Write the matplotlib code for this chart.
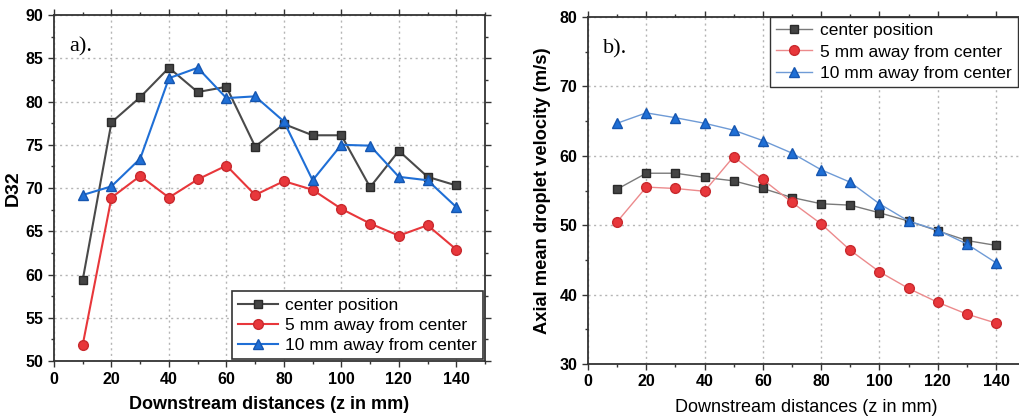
import matplotlib
matplotlib.use("Agg")
import matplotlib.pyplot as plt
from matplotlib.ticker import MultipleLocator

# Downstream positions (mm)
z = [10, 20, 30, 40, 50, 60, 70, 80, 90, 100, 110, 120, 130, 140]

# Panel a: Sauter mean diameter D32
d32_center = [59.4, 77.6, 80.5, 83.9, 81.1, 81.7, 74.8, 77.4, 76.1, 76.1, 70.1, 74.3, 71.3, 70.3]
d32_5mm = [51.9, 68.9, 71.4, 68.9, 71.0, 72.6, 69.2, 70.8, 69.8, 67.6, 65.9, 64.5, 65.7, 62.9]
d32_10mm = [69.2, 70.2, 73.4, 82.7, 83.9, 80.4, 80.6, 77.7, 70.9, 75.0, 74.9, 71.3, 70.9, 67.8]

# Panel b: axial mean droplet velocity (m/s)
vel_center = [55.2, 57.5, 57.5, 56.9, 56.4, 55.3, 54.0, 53.1, 52.9, 51.8, 50.6, 49.2, 47.8, 47.1]
vel_5mm = [50.5, 55.5, 55.3, 54.9, 59.9, 56.6, 53.3, 50.2, 46.4, 43.3, 40.9, 38.9, 37.2, 35.9]
vel_10mm = [64.7, 66.2, 65.5, 64.7, 63.7, 62.2, 60.4, 58.0, 56.2, 53.1, 50.6, 49.3, 47.3, 44.6]

series_labels = ["center position", "5 mm away from center", "10 mm away from center"]
x_label = "Downstream distances (z in mm)"

SANS = "Liberation Sans"
SERIF = "Liberation Serif"

GREY, RED, BLUE = "#444444", "#e8373b", "#1f6fd6"
GREY_EDGE, RED_EDGE, BLUE_EDGE = "#2a2a2a", "#c92a2e", "#1656b0"

fig = plt.figure(figsize=(10.19, 4.17), dpi=100)
ax_a = fig.add_axes([0.053, 0.134, 0.423, 0.830])
ax_b = fig.add_axes([0.577, 0.127, 0.429, 0.832])


def style_axes(ax, ymin, ymax, ymaj, ymin_step):
    ax.set_xlim(0, 150)
    ax.set_ylim(ymin, ymax)
    ax.xaxis.set_major_locator(MultipleLocator(20))
    ax.xaxis.set_minor_locator(MultipleLocator(10))
    ax.yaxis.set_major_locator(MultipleLocator(ymaj))
    ax.yaxis.set_minor_locator(MultipleLocator(ymin_step))
    ax.tick_params(which="both", direction="out", top=True, right=True,
                   width=1.0, color="#333333")
    ax.tick_params(which="major", length=4.5, labelsize=11.5, pad=3)
    ax.tick_params(which="minor", length=2.5)
    for lab in ax.get_xticklabels() + ax.get_yticklabels():
        lab.set_fontfamily(SANS)
        lab.set_fontweight("bold")
    for s in ax.spines.values():
        s.set_linewidth(1.3)
        s.set_color("#333333")
    ax.grid(True, which="major", linestyle=(0, (1.5, 2.5)), color="#b5b5b5", linewidth=1.0)
    ax.set_axisbelow(True)


# ---- panel a ----
style_axes(ax_a, 50, 90, 5, 2.5)
ax_a.plot(z, d32_center, color="#4a4a4a", lw=1.5, marker="s", ms=6,
          mfc=GREY, mec=GREY_EDGE, label=series_labels[0])
ax_a.plot(z, d32_5mm, color=RED, lw=1.5, marker="o", ms=7,
          mfc=RED, mec=RED_EDGE, label=series_labels[1])
ax_a.plot(z, d32_10mm, color=BLUE, lw=1.5, marker="^", ms=7.5,
          mfc=BLUE, mec=BLUE_EDGE, label=series_labels[2])
ax_a.set_xlabel(x_label, fontfamily=SANS, fontweight="bold", fontsize=13, labelpad=7)
ax_a.set_ylabel("D32", fontfamily=SANS, fontweight="bold", fontsize=14, labelpad=3)
ax_a.text(0.035, 0.935, "a).", transform=ax_a.transAxes, fontfamily=SERIF,
          fontsize=16, va="top", ha="left")
leg_a = ax_a.legend(loc="lower right", bbox_to_anchor=(1.0, 0.0), frameon=True,
                    fancybox=False, edgecolor="#333333", framealpha=1,
                    prop={"family": SANS, "size": 12.5}, handlelength=2.3,
                    handletextpad=0.45, borderpad=0.35, labelspacing=0.3,
                    borderaxespad=0.1)
leg_a.get_frame().set_linewidth(1.2)

# ---- panel b ----
style_axes(ax_b, 30, 80, 10, 5)
ax_b.plot(z, vel_center, color="#7a7a7a", lw=1.0, marker="s", ms=6,
          mfc=GREY, mec=GREY_EDGE, label=series_labels[0])
ax_b.plot(z, vel_5mm, color="#ec8a8c", lw=1.0, marker="o", ms=7,
          mfc=RED, mec=RED_EDGE, label=series_labels[1])
ax_b.plot(z, vel_10mm, color="#6f9bd6", lw=1.0, marker="^", ms=7.5,
          mfc=BLUE, mec=BLUE_EDGE, label=series_labels[2])
ax_b.set_xlabel(x_label, fontfamily=SANS, fontsize=13, labelpad=7)
ax_b.set_ylabel("Axial mean droplet velocity (m/s)", fontfamily=SANS,
                fontweight="bold", fontsize=13.2, labelpad=6)
ax_b.text(0.035, 0.935, "b).", transform=ax_b.transAxes, fontfamily=SERIF,
          fontsize=16, va="top", ha="left")
leg_b = ax_b.legend(loc="upper left", bbox_to_anchor=(0.416, 1.0), frameon=True,
                    fancybox=False, edgecolor="#333333", framealpha=1,
                    prop={"family": SANS, "size": 12.5}, handlelength=2.1,
                    handletextpad=0.45, borderpad=0.35, labelspacing=0.35,
                    borderaxespad=0.0)
leg_b.get_frame().set_linewidth(1.0)

fig.savefig("out.png", dpi=100)
